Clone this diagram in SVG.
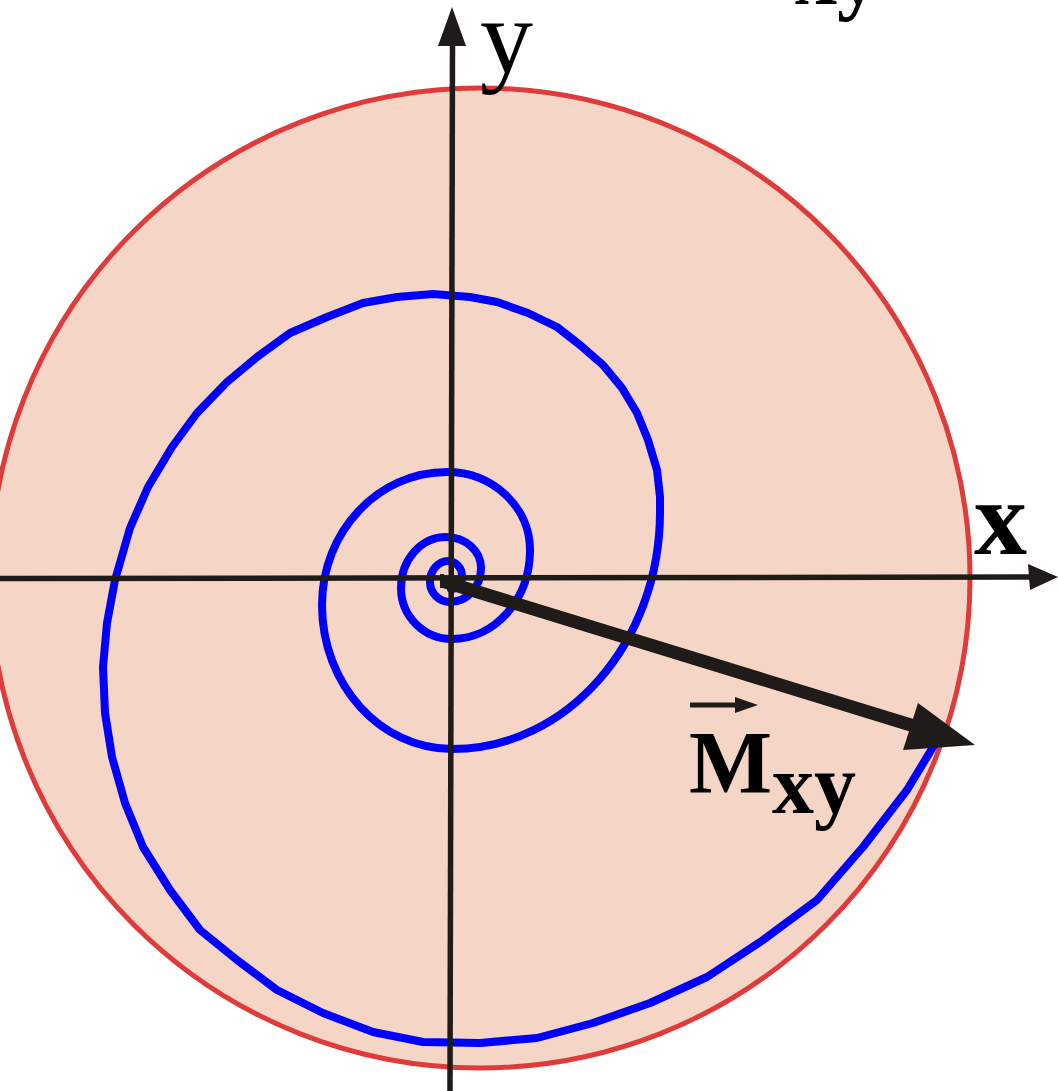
<svg xmlns="http://www.w3.org/2000/svg" width="1058" height="1091" viewBox="0 0 1058 1091">
<style>
.ink{fill:#1e1b18;stroke:none}
.axis{stroke:#1e1b18;stroke-width:5.5;fill:none}
.lbl{font-family:"Liberation Serif","Times New Roman",serif;fill:#000}
.b{font-weight:bold}
</style>
<rect width="1058" height="1091" fill="#ffffff"/>
<g id="disk">
<circle cx="480" cy="578" r="490" fill="#f5d6c6" stroke="#df3b3b" stroke-width="5"/>
</g>
<g id="spiral">
<path fill="none" stroke="#0000ff" stroke-width="8" stroke-linejoin="round" stroke-linecap="round" d="M942,735 L933,747 907,790 863,847 817,900 763,940 707,977 650,1003 593,1023 537,1038 480,1043 423,1042 373,1032 323,1013 277,990 237,960 200,930 170,890 143,847 125,803 112,757 105,713 103,667 107,623 115,580 130,528 148,487 172,447 197,413 227,382 257,357 290,333 327,317 363,303 397,297 433,294 470,297 497,302 528,313 557,327 580,345 603,365 622,388 637,413 648,440 657,470 660,497 660,512
C660,642.9 566.9,749 452,749
C380.2,749 322,684.5 322,605
C322,531.5 378,472 447,472
C492.8,472 530,506.9 530,550
C530,599.2 495.1,639 452,639
C423.8,639 401,616.2 401,588
C401,559.8 421.1,537 446,537
C465.3,537 481,550.9 481,568
C481,586.8 467.1,602 450,602
C439,602 430,593 430,582
C430,570.4 438.1,561 448,561
C455.7,561 462,567.7 462,576
C462,583 457,589 451,589"/>
</g>
<g id="connectors">
<line class="axis" x1="0" y1="578.5" x2="1032" y2="577"/>
<polygon class="ink" points="1058,577 1028,564 1030,590"/>
<line class="axis" x1="450" y1="1091" x2="452.5" y2="44"/>
<polygon class="ink" points="452,7 438,46 466,46"/>
<line stroke="#1e1b18" stroke-width="13" x1="442" y1="581" x2="914" y2="726"/>
<polygon class="ink" points="975,745 918,703 903,750"/>
<line x1="442" y1="574" x2="442" y2="588" stroke="#1e1b18" stroke-width="4"/>
</g>
<g id="label-y"><text class="lbl" x="480" y="72" font-size="106">y</text></g>
<g id="label-x"><text class="lbl b" x="974" y="554" font-size="106">x</text></g>
<g id="label-m">
<line x1="690" y1="705" x2="738" y2="705" stroke="#1e1b18" stroke-width="5"/>
<polygon class="ink" points="758,705 735,697 735,713"/>
<text class="lbl b" x="689" y="792" font-size="88">M<tspan font-size="84" y="813">xy</tspan></text>
</g>
<g id="label-top"><text class="lbl b" x="795" y="4" font-size="84">xy</text></g>
</svg>
